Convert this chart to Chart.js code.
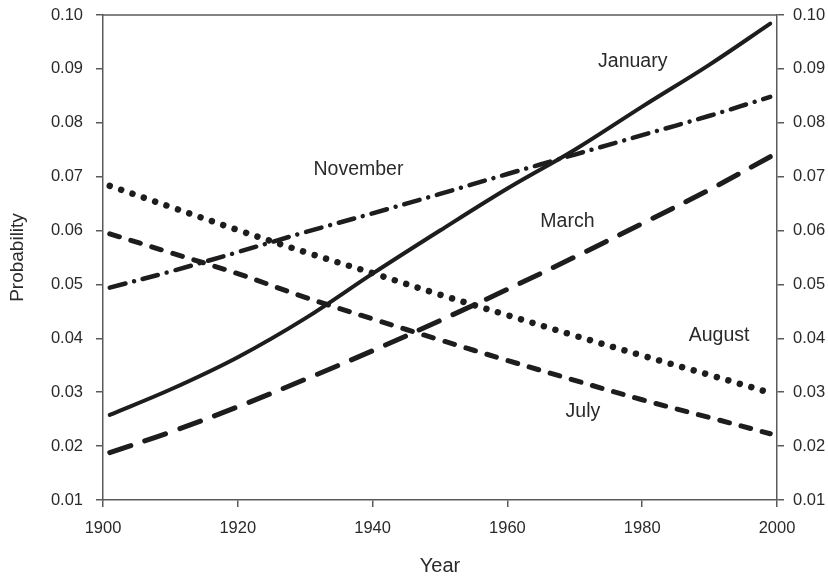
<!DOCTYPE html>
<html>
<head>
<meta charset="utf-8">
<script src="https://cdn.jsdelivr.net/npm/chart.js@4/dist/chart.umd.min.js"></script>
<style>
  html, body { margin: 0; padding: 0; background: #fff; }
  #wrap { width: 828px; height: 581px; }
</style>
</head>
<body>
<div id="wrap"><canvas id="c" width="828" height="581"></canvas></div>
<script>
// Monthly probability trends, 1901–1999
const years    = [1901, 1910, 1920, 1930, 1940, 1950, 1960, 1970, 1980, 1990, 1999];
const january  = [0.0258, 0.0305, 0.0365, 0.0437, 0.0520, 0.0600, 0.0678, 0.0750, 0.0830, 0.0908, 0.0984];
const november = [0.0494, 0.0524, 0.0560, 0.0597, 0.0632, 0.0668, 0.0705, 0.0741, 0.0777, 0.0813, 0.0848];
const march    = [0.0188, 0.0226, 0.0273, 0.0324, 0.0377, 0.0433, 0.0491, 0.0551, 0.0613, 0.0676, 0.0737];
const august   = [0.0683, 0.0644, 0.0601, 0.0560, 0.0521, 0.0481, 0.0443, 0.0405, 0.0368, 0.0332, 0.0299];
const july     = [0.0594, 0.0559, 0.0520, 0.0476, 0.0436, 0.0397, 0.0359, 0.0322, 0.0286, 0.0253, 0.0223];

const yearTicks = [1900, 1920, 1940, 1960, 1980, 2000];
const probTicks = [0.01, 0.02, 0.03, 0.04, 0.05, 0.06, 0.07, 0.08, 0.09, 0.10];

// In-plot series names, placed in data coordinates
const seriesNames = [
  { text: 'January',  year: 1978.6, value: 0.0913 },
  { text: 'November', year: 1937.9, value: 0.0713 },
  { text: 'March',    year: 1968.9, value: 0.0616 },
  { text: 'August',   year: 1991.4, value: 0.0405 },
  { text: 'July',     year: 1971.2, value: 0.0264 }
];

const INK = '#1e1c1d';
const AXIS = '#5a5a5a';
const TEXT = '#2a2a2a';
const FONT = '"Liberation Sans", Arial, Helvetica, sans-serif';

const pts = vals => years.map((y, i) => ({ x: y, y: vals[i] }));

function series(label, vals, width, dash) {
  return {
    label,
    data: pts(vals),
    borderColor: INK,
    backgroundColor: INK,
    borderWidth: width,
    borderDash: dash,
    borderCapStyle: 'round',
    borderJoinStyle: 'round',
    pointRadius: 0,
    fill: false,
    tension: 0.35
  };
}

const frameAndNames = {
  id: 'frameAndNames',
  afterDraw(chart) {
    const { ctx, chartArea, scales } = chart;
    ctx.save();
    // top border of the plot frame
    ctx.strokeStyle = AXIS;
    ctx.lineWidth = 1.5;
    ctx.beginPath();
    ctx.moveTo(chartArea.left, chartArea.top);
    ctx.lineTo(chartArea.right, chartArea.top);
    ctx.stroke();
    // series names
    ctx.fillStyle = TEXT;
    ctx.font = '19.5px ' + FONT;
    ctx.textAlign = 'center';
    ctx.textBaseline = 'middle';
    seriesNames.forEach(n => {
      ctx.fillText(n.text, scales.x.getPixelForValue(n.year), scales.y.getPixelForValue(n.value));
    });
    ctx.restore();
  }
};

const tickFont = { family: FONT, size: 16.5 };
const gridOpts = { display: true, drawOnChartArea: false, drawTicks: true, tickLength: 7, color: AXIS, lineWidth: 1.5 };
const borderOpts = { display: true, color: AXIS, width: 1.5 };

// fixed box sizes so the plot frame sits where intended
const fitBox = (w, h) => s => {
  if (w !== null) s.width = w;
  if (h !== null) s.height = h;
  s.paddingTop = 0; s.paddingBottom = 0; s.paddingLeft = 0; s.paddingRight = 0;
};

new Chart(document.getElementById('c'), {
  type: 'line',
  data: {
    datasets: [
      series('January',  january,  4,   []),
      series('November', november, 4.5, [16, 9, 0.01, 9]),
      series('March',    march,    5,   [22, 15]),
      series('August',   august,   6.5, [0.01, 12]),
      series('July',     july,     5,   [10, 12])
    ]
  },
  options: {
    responsive: false,
    animation: false,
    devicePixelRatio: 1,
    layout: { padding: { top: 15, left: 0, right: 0, bottom: 0 } },
    plugins: { legend: { display: false }, tooltip: { enabled: false } },
    scales: {
      x: {
        type: 'linear',
        min: 1900, max: 2000,
        afterBuildTicks: s => { s.ticks = yearTicks.map(v => ({ value: v })); },
        afterFit: fitBox(null, 81),
        ticks: { color: TEXT, font: tickFont, padding: 12, maxRotation: 0, callback: v => String(v) },
        grid: gridOpts,
        border: borderOpts,
        title: { display: true, text: 'Year', color: TEXT, font: { family: FONT, size: 20 }, padding: { top: 0, bottom: 3 } }
      },
      y: {
        position: 'left',
        min: 0.01, max: 0.10,
        afterBuildTicks: s => { s.ticks = probTicks.map(v => ({ value: v })); },
        afterFit: fitBox(103, null),
        ticks: { color: TEXT, font: tickFont, padding: 13, callback: v => v.toFixed(2) },
        grid: gridOpts,
        border: borderOpts,
        title: { display: true, text: 'Probability', color: TEXT, font: { family: FONT, size: 19 }, padding: { top: 6, bottom: 0 } }
      },
      y2: {
        position: 'right',
        min: 0.01, max: 0.10,
        afterBuildTicks: s => { s.ticks = probTicks.map(v => ({ value: v })); },
        afterFit: fitBox(51, null),
        ticks: { color: TEXT, font: tickFont, padding: 9, callback: v => v.toFixed(2) },
        grid: gridOpts,
        border: borderOpts
      }
    }
  },
  plugins: [frameAndNames]
});
</script>
</body>
</html>
